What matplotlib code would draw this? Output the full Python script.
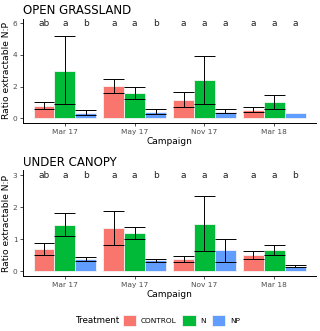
import numpy as np
import matplotlib.pyplot as plt
import matplotlib.patches as mpatches

campaigns = ['Mar 17', 'May 17', 'Nov 17', 'Mar 18']
treatments = ['CONTROL', 'N', 'NP']
colors = ['#F8766D', '#00BA38', '#619CFF']

# OPEN GRASSLAND (rows = treatment, cols = campaign)
og_mean = [[0.80, 2.04, 1.16, 0.52],
           [3.01, 1.58, 2.42, 1.01],
           [0.32, 0.40, 0.42, 0.35]]
og_lo = [[0.60, 1.58, 0.69, 0.38],
         [0.88, 1.24, 0.90, 0.59],
         [0.21, 0.25, 0.32, np.nan]]
og_hi = [[1.02, 2.50, 1.64, 0.73],
         [5.22, 2.00, 3.96, 1.47],
         [0.52, 0.57, 0.61, np.nan]]
og_letters = [['ab', 'a', 'a', 'a'],
              ['a', 'a', 'a', 'a'],
              ['b', 'b', 'a', 'a']]

# UNDER CANOPY
uc_mean = [[0.70, 1.35, 0.37, 0.50],
           [1.45, 1.19, 1.49, 0.66],
           [0.37, 0.35, 0.66, 0.14]]
uc_lo = [[0.50, 0.81, 0.28, 0.39],
         [1.11, 1.00, 0.62, 0.52],
         [0.32, 0.29, 0.30, 0.12]]
uc_hi = [[0.89, 1.89, 0.48, 0.62],
         [1.81, 1.37, 2.36, 0.83],
         [0.46, 0.39, 1.02, 0.19]]
uc_letters = [['ab', 'a', 'a', 'a'],
              ['a', 'a', 'a', 'a'],
              ['b', 'b', 'a', 'b']]

fig = plt.figure(figsize=(3.2, 3.31), dpi=100)
ax1 = fig.add_axes([0.072, 0.628, 0.916, 0.316])
ax2 = fig.add_axes([0.072, 0.166, 0.916, 0.319])

bw = 0.3
x = np.arange(1, len(campaigns) + 1)


def panel(ax, mean, lo, hi, letters, ymax, yticks, title):
    for i, t in enumerate(treatments):
        xs = x + (i - 1) * bw
        ax.bar(xs, mean[i], width=bw, color=colors[i], edgecolor='#f4f4f4',
               linewidth=0.6, zorder=2)
        lo_i = np.array(lo[i], dtype=float)
        hi_i = np.array(hi[i], dtype=float)
        ax.vlines(xs, lo_i, hi_i, color='black', lw=0.7, zorder=3)
        ax.hlines(lo_i, xs - bw / 2, xs + bw / 2, color='black', lw=0.7, zorder=3)
        ax.hlines(hi_i, xs - bw / 2, xs + bw / 2, color='black', lw=0.7, zorder=3)
        for xx, lab in zip(xs, letters[i]):
            ax.text(xx, ymax, lab, ha='center', va='center', fontsize=6.5, color='#222222')
    ax.set_xlim(0.4, 4.6)
    ax.set_ylim(-0.05 * ymax, ymax * 1.05)
    ax.set_xticks(x)
    ax.set_xticklabels(campaigns)
    ax.set_yticks(yticks)
    ax.tick_params(labelsize=5.3, colors='#333333', labelcolor='#4d4d4d',
                   length=2.5, width=0.6, pad=1.5)
    for s in ['top', 'right']:
        ax.spines[s].set_visible(False)
    for s in ['left', 'bottom']:
        ax.spines[s].set_linewidth(0.7)
    ax.set_xlabel('Campaign', fontsize=6.5, labelpad=1.5)
    ax.set_ylabel('Ratio extractable N:P', fontsize=6.6, labelpad=1.5)
    ax.set_title(title, loc='left', fontsize=8.5, pad=3)


panel(ax1, og_mean, og_lo, og_hi, og_letters, 6, [0, 2, 4, 6], 'OPEN GRASSLAND')
panel(ax2, uc_mean, uc_lo, uc_hi, uc_letters, 3, [0, 1, 2, 3], 'UNDER CANOPY')

handles = [mpatches.Patch(facecolor=c, edgecolor='#f4f4f4', linewidth=0.6, label=t)
           for c, t in zip(colors, treatments)]
fig.text(0.234, 0.032, 'Treatment', fontsize=6.3, va='center', ha='left')
fig.legend(handles=handles, loc='center left', bbox_to_anchor=(0.383, 0.032),
           ncol=3, frameon=False, fontsize=5.3, handlelength=1.85, handleheight=1.85,
           handletextpad=0.65, columnspacing=0.75, borderpad=0, borderaxespad=0)

fig.savefig('out.png', dpi=100)
